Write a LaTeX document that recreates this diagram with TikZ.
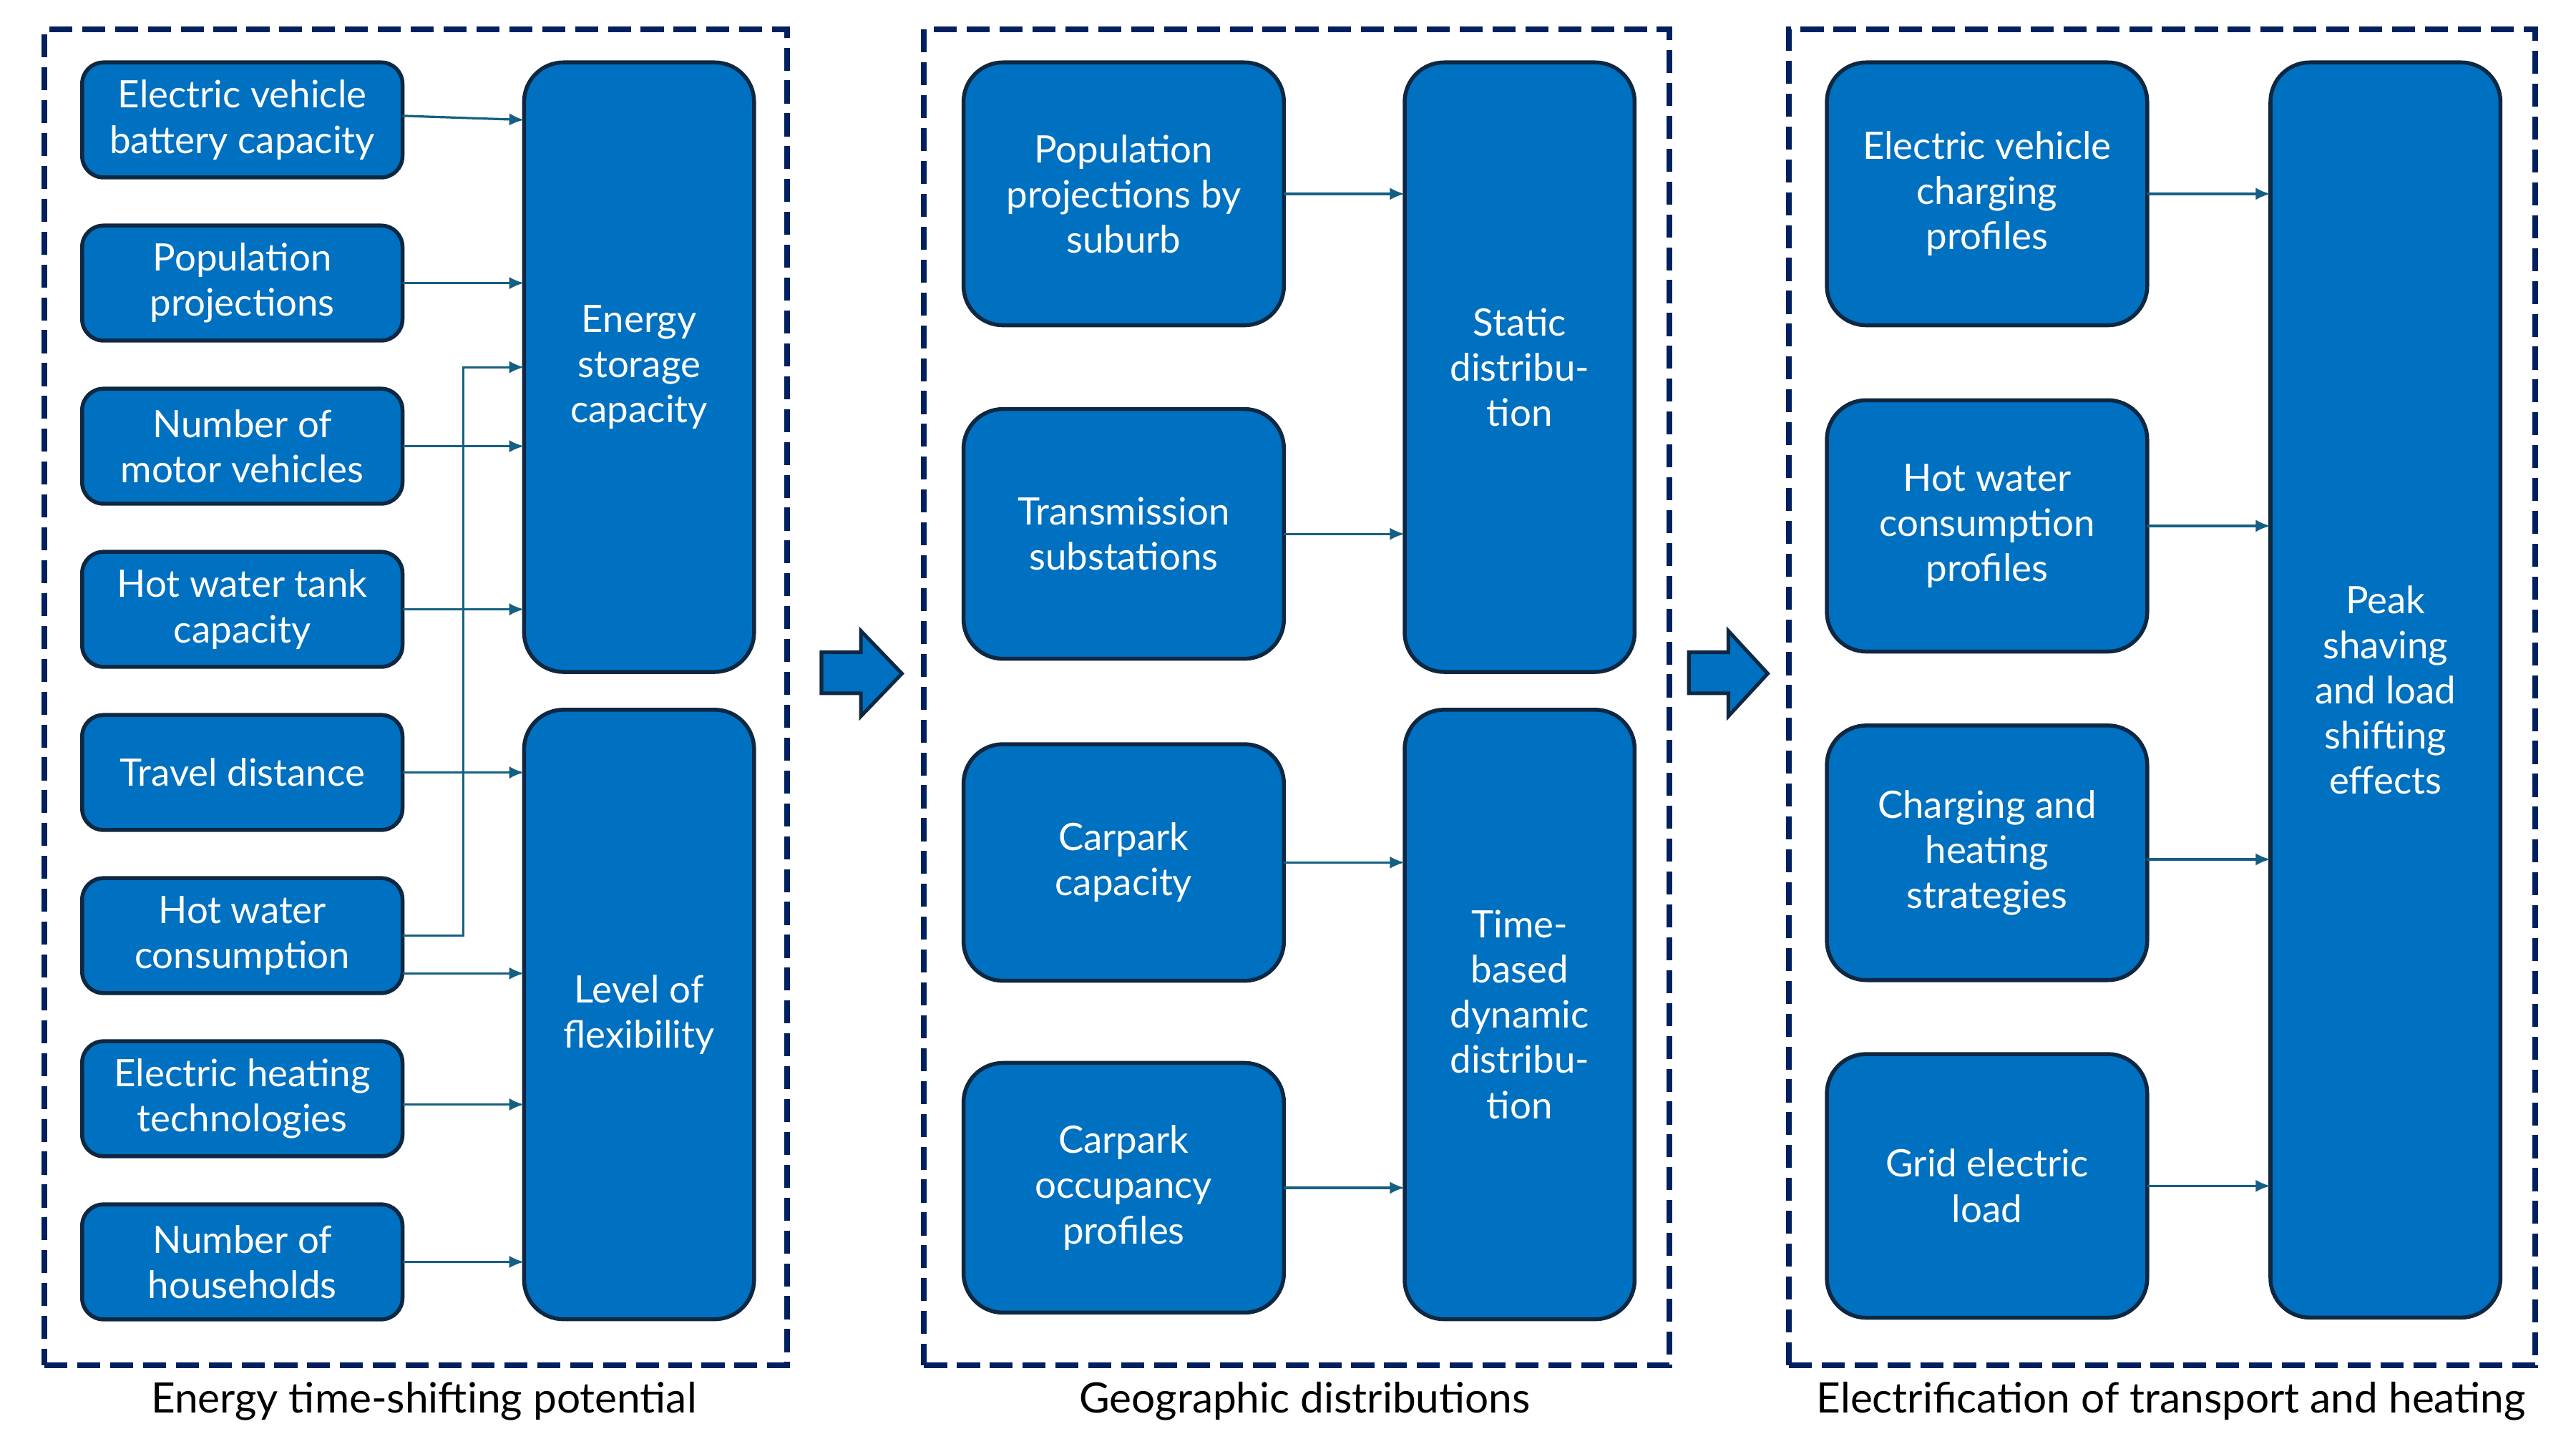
\documentclass[tikz,border=0pt]{standalone}
\usepackage{fontspec}
\setmainfont{Lato}
\usepackage{tikz}
\usetikzlibrary{positioning, fit, arrows.meta}

\definecolor{boxblue}{HTML}{0070C0}
\definecolor{boxedge}{HTML}{0E2841}
\definecolor{framenavy}{HTML}{002060}
\definecolor{linkteal}{HTML}{156082}

\begin{document}
\begin{tikzpicture}[
  x=1pt, y=-1pt,
  node distance=29.3pt and 74pt,
  inbox/.style={draw=boxedge, fill=boxblue, line width=2.4pt, rounded corners=13pt,
    text=white, align=center, inner sep=0pt, outer sep=0pt,
    minimum width=195pt, minimum height=70pt, font=\fontsize{23}{27.5}\selectfont},
  bigbox/.style={inbox, rounded corners=24pt},
  outbox/.style={inbox, rounded corners=24pt, minimum width=140pt, minimum height=371pt},
  frame/.style={draw=framenavy, line width=3.5pt, dash pattern=on 14pt off 6pt,
    inner sep=0pt, outer sep=0pt},
  caption/.style={font=\fontsize{25.5}{30}\selectfont},
  link/.style={draw=linkteal, line width=1.4pt, -{Latex[length=9pt,width=7.5pt]}},
  bigarrow/.style={draw=boxedge, fill=boxblue, line width=2.2pt, line join=miter}
]
\useasboundingbox (0,0) rectangle (1568,882);

% energy time-shifting
\node[inbox] (evbat) at (147.5,73) {Electric vehicle\\battery capacity};
\node[inbox, below=of evbat] (pop) {Population\\projections};
\node[inbox, below=of pop] (motor) {Number of\\motor vehicles};
\node[inbox, below=of motor] (tank) {Hot water tank\\capacity};
\node[inbox, below=of tank] (travel) {Travel distance};
\node[inbox, below=of travel] (hwc) {Hot water\\consumption};
\node[inbox, below=of hwc] (heat) {Electric heating\\technologies};
\node[inbox, below=of heat] (house) {Number of\\households};

\node[outbox, right=of evbat.north east, anchor=north west] (store) {Energy\\storage\\capacity};
\node[outbox, below=23pt of store] (flex) {Level of\\flexibility};

\node[frame, fit={([xshift=-23pt,yshift=20pt]evbat.north west) ([xshift=20pt,yshift=-28pt]flex.south east)}] (panelA) {};
\node[caption] (capA) at ([xshift=5pt,yshift=-22pt]panelA.south) {Energy time-shifting potential};

\path ([yshift=2.5pt]evbat.east) edge[link] (evbat.east -| store.west)
(pop.east) edge[link] (pop.east -| store.west)
(motor.east) edge[link] (motor.east -| store.west)
(tank.east) edge[link] (tank.east -| store.west)
(travel.east) edge[link] (travel.east -| flex.west)
([yshift=-3.5pt]heat.east) edge[link] ([yshift=-3.5pt]heat.east -| flex.west)
(house.east) edge[link] (house.east -| flex.west);

\draw[link] (hwc.east) -- ++(37,0) |- (store.west);
\draw[link] ([yshift=-23pt]hwc.east) -- ([yshift=-23pt]hwc.east -| flex.west);

% geographic distributions
\node[bigbox, minimum height=160pt] (popsub) at (684,118) {Population\\projections by\\suburb};
\node[bigbox, minimum height=152pt, below=51pt of popsub] (trans) {Transmission\\substations};
\node[bigbox, minimum height=144pt, below=52pt of trans] (cpcap) {Carpark\\capacity};
\node[bigbox, minimum height=152pt, below=50pt of cpcap] (cpocc) {Carpark\\occupancy\\profiles};

\node[outbox, right=73.5pt of popsub.north east, anchor=north west] (static) {Static\\distribu-\\tion};
\node[outbox, below=23pt of static] (timedyn) {Time-\\based\\dynamic\\distribu-\\tion};

\node[frame, fit={([xshift=-24pt,yshift=20pt]popsub.north west) ([xshift=21pt,yshift=-28pt]timedyn.south east)}] (panelB) {};
\node[caption] (capB) at ([xshift=5pt,yshift=-22pt]panelB.south) {Geographic distributions};

\path (popsub.east) edge[link] (popsub.east -| static.west)
(trans.east) edge[link] (trans.east -| static.west)
(cpcap.east) edge[link] (cpcap.east -| timedyn.west)
(cpocc.east) edge[link] (cpocc.east -| timedyn.west);

% electrification
\node[bigbox, minimum height=160pt] (evchg) at (1209.5,118) {Electric vehicle\\charging\\profiles};
\node[bigbox, minimum height=153pt, below=45.6pt of evchg] (hwprof) {Hot water\\consumption\\profiles};
\node[bigbox, minimum height=155pt, below=45pt of hwprof] (strat) {Charging and\\heating\\strategies};
\node[bigbox, minimum height=160.5pt, below=45pt of strat] (grid) {Grid electric\\load};

\node[outbox, minimum height=764pt, right=75pt of evchg.north east, anchor=north west] (peak) {Peak\\shaving\\and load\\shifting\\effects};

\node[frame, fit={([xshift=-23pt,yshift=20pt]evchg.north west) ([xshift=21pt,yshift=-29pt]peak.south east)}] (panelC) {};
\node[caption] (capC) at ([xshift=5.5pt,yshift=-22pt]panelC.south) {Electrification of transport and heating};

\path (evchg.east) edge[link] (evchg.east -| peak.west)
(hwprof.east) edge[link] (hwprof.east -| peak.west)
([yshift=-4pt]strat.east) edge[link] ([yshift=-4pt]strat.east -| peak.west)
(grid.east) edge[link] (grid.east -| peak.west);

% block arrows between panels
\draw[bigarrow] (500,397) -- (524,397) -- (524,384) -- (549,410) -- (524,436) -- (524,422) -- (500,422) -- cycle;
\draw[bigarrow] (1028,397) -- (1052,397) -- (1052,384) -- (1076,410) -- (1052,436) -- (1052,422) -- (1028,422) -- cycle;

\end{tikzpicture}
\end{document}
